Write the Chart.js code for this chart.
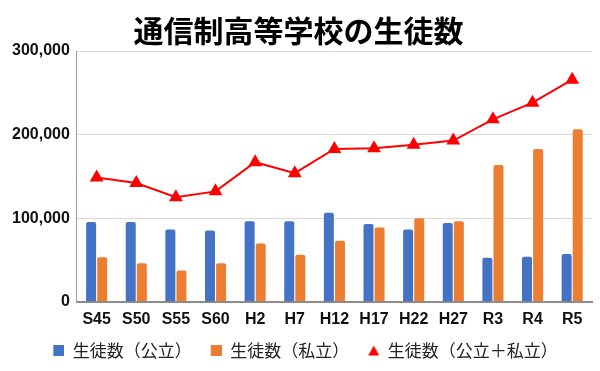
<!DOCTYPE html>
<html>
<head>
<meta charset="utf-8">
<script src="https://cdn.jsdelivr.net/npm/chart.js@4"></script>
<style>
  html, body { margin: 0; padding: 0; background: #fff; }
  #wrap { width: 600px; height: 371px; }
</style>
</head>
<body>
<div id="wrap"><canvas id="students"></canvas></div>
<script>
const categories = ['S45', 'S50', 'S55', 'S60', 'H2', 'H7', 'H12', 'H17', 'H22', 'H27', 'R3', 'R4', 'R5'];
const publicStudents = [95600, 95600, 86500, 85300, 96400, 96400, 106500, 93200, 86500, 94400, 52600, 53800, 57300];
const privateStudents = [53200, 46000, 37300, 46000, 69800, 56300, 72900, 88900, 100000, 96400, 163700, 182800, 206300];
const totalStudents = [148800, 142000, 125000, 132100, 167000, 153900, 182800, 183600, 188000, 192800, 218300, 238200, 265700];
const yTicks = [0, 100000, 200000, 300000];

const jpFont = '"Noto Sans CJK JP", "Noto Sans", sans-serif';
const numFont = '"Liberation Sans", Arial, sans-serif';

// legend markers as little canvases; blank space on the left gives the gap between items
const MW = 25;
function legendMarker(color, tri) {
  const c = document.createElement('canvas');
  c.width = MW;
  c.height = 11;
  const g = c.getContext('2d');
  g.fillStyle = color;
  if (tri) {
    g.beginPath();
    g.moveTo(MW - 5.5, 0.5);
    g.lineTo(MW, 10.5);
    g.lineTo(MW - 11, 10.5);
    g.closePath();
    g.fill();
  } else {
    g.fillRect(MW - 11, 0, 11, 11);
  }
  return c;
}
const markers = [legendMarker('#4472C4'), legendMarker('#ED7D31'), legendMarker('#FF0000', true)];

const ctx = document.getElementById('students').getContext('2d');
new Chart(ctx, {
  type: 'bar',
  data: {
    labels: categories,
    datasets: [
      {
        label: '生徒数（公立）',
        data: publicStudents,
        backgroundColor: '#4472C4',
        borderRadius: 2,
        barPercentage: 0.9,
        categoryPercentage: 0.56,
        order: 1
      },
      {
        label: '生徒数（私立）',
        data: privateStudents,
        backgroundColor: '#ED7D31',
        borderRadius: 2,
        barPercentage: 0.9,
        categoryPercentage: 0.56,
        order: 1
      },
      {
        type: 'line',
        label: '生徒数（公立＋私立）',
        data: totalStudents,
        borderColor: '#FF0000',
        backgroundColor: '#FF0000',
        borderWidth: 2,
        pointStyle: 'triangle',
        pointRadius: 6,
        tension: 0,
        order: 0
      }
    ]
  },
  options: {
    responsive: true,
    maintainAspectRatio: false,
    animation: false,
    layout: { padding: { left: 5, right: 8, bottom: 2 } },
    plugins: {
      title: {
        display: true,
        text: '通信制高等学校の生徒数',
        color: '#000',
        font: { family: jpFont, size: 30, weight: 'bold' },
        padding: { top: 13, bottom: 2 }
      },
      legend: {
        position: 'bottom',
        labels: {
          usePointStyle: true,
          pointStyleWidth: MW,
          boxHeight: 11,
          padding: 5,
          color: '#222',
          font: { family: jpFont, size: 17 },
          sort: (a, b) => a.datasetIndex - b.datasetIndex,
          generateLabels: (chart) => {
            const items = Chart.defaults.plugins.legend.labels.generateLabels(chart);
            items.forEach(it => { it.pointStyle = markers[it.datasetIndex]; });
            return items;
          }
        }
      },
      tooltip: { enabled: false }
    },
    scales: {
      x: {
        grid: { display: false, drawTicks: false },
        border: { color: '#8c8c8c', width: 2 },
        ticks: {
          color: '#111',
          padding: 8,
          maxRotation: 0,
          autoSkip: false,
          font: { family: numFont, size: 16, weight: 'bold' }
        }
      },
      y: {
        min: 0,
        max: 300000,
        afterBuildTicks: (scale) => { scale.ticks = yTicks.map(v => ({ value: v })); },
        grid: { color: '#d9d9d9', drawTicks: false },
        border: { color: '#9a9a9a', width: 1 },
        ticks: {
          color: '#111',
          padding: 7,
          font: { family: numFont, size: 16, weight: 'bold' },
          callback: (v) => v.toLocaleString('en-US')
        }
      }
    }
  }
});
</script>
</body>
</html>
